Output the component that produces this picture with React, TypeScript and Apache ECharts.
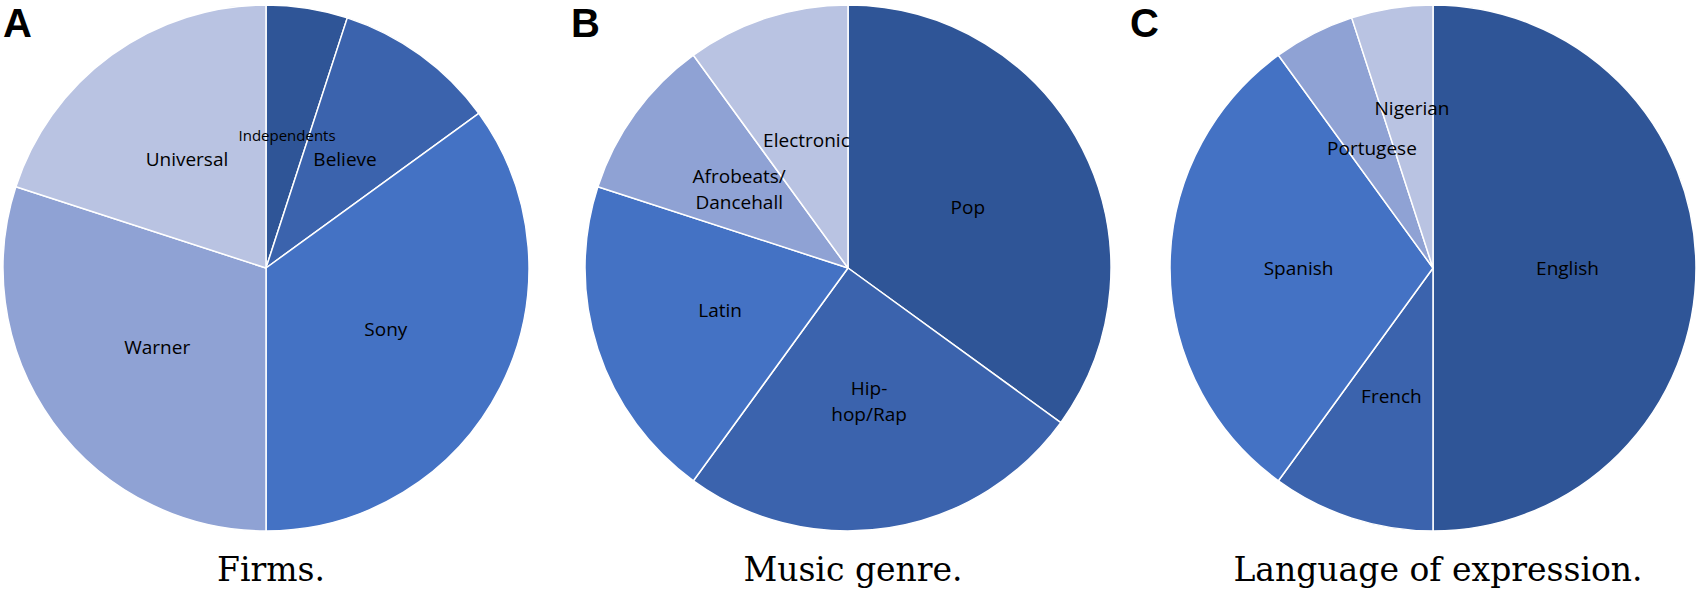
import { useEffect, useRef } from 'react'
import * as echarts from 'echarts'

// shares in percent, clockwise from 12 o'clock
const firmNames = ['Independents', 'Believe', 'Sony', 'Warner', 'Universal']
const firmShares = [5, 10, 35, 30, 20]

const genreNames = ['Pop', 'Hip-\nhop/Rap', 'Latin', 'Afrobeats/\nDancehall', 'Electronic']
const genreShares = [35, 25, 20, 10, 10]

const languageNames = ['English', 'French', 'Spanish', 'Portugese', 'Nigerian']
const languageShares = [50, 10, 30, 5, 5]

const panelLetters = ['A', 'B', 'C']
const panelCaptions = ['Firms.', 'Music genre.', 'Language of expression.']

const palette = ['#2f5597', '#3b63ad', '#4472c4', '#8fa2d4', '#b9c3e2']

const centersX = [266, 848, 1433]
const centerY = 268
const radius = 263

function toData(names: string[], values: number[]) {
  return names.map((name, i) => ({ name, value: values[i] }))
}

export default function App() {
  const chartRef = useRef<HTMLDivElement>(null)

  useEffect(() => {
    if (!chartRef.current) return
    const chart = echarts.init(chartRef.current, null, { renderer: 'svg' })

    const pies = [
      toData(firmNames, firmShares),
      toData(genreNames, genreShares),
      toData(languageNames, languageShares),
    ]

    const series = pies.map((data, i) => ({
      type: 'pie',
      center: [centersX[i], centerY],
      radius: [0, radius],
      startAngle: 90,
      clockwise: true,
      data,
      itemStyle: { borderColor: '#ffffff', borderWidth: 1.5 },
      label: {
        show: true,
        position: 'inside',
        color: '#000',
        fontFamily: 'Open Sans',
        fontSize: 19,
        lineHeight: 26,
        formatter: '{b}',
      },
      labelLine: { show: false },
      emphasis: { disabled: true },
      // Excel's "best fit" pushed the Nigerian label outwards
      labelLayout: (p: any) => {
        if (i === 2 && p.dataIndex === 4) return { dy: -27 }
        return {}
      },
    }))

    // smaller text for the Independents label
    ;(series[0].data as any)[0].label = { fontSize: 15 }

    const titles = [
      ...panelLetters.map((t, i) => ({
        text: t,
        left: [3, 571, 1130][i],
        top: 3,
        padding: 0,
        textStyle: {
          fontFamily: 'Liberation Sans',
          fontWeight: 'bold',
          fontSize: 40,
          lineHeight: 40,
          color: '#000',
        },
      })),
      ...panelCaptions.map((t, i) => ({
        text: t,
        left: centersX[i],
        top: 548,
        textAlign: 'center',
        textStyle: { fontFamily: 'DejaVu Serif', fontWeight: 'normal', fontSize: 33, color: '#000' },
      })),
    ]

    chart.setOption({
      animation: false,
      color: palette,
      title: titles,
      tooltip: { show: false },
      series,
    })

    return () => chart.dispose()
  }, [])

  return (
    <div
      ref={chartRef}
      style={{ position: 'absolute', left: 0, top: 0, width: 1699, height: 594, background: '#fff' }}
    />
  )
}
